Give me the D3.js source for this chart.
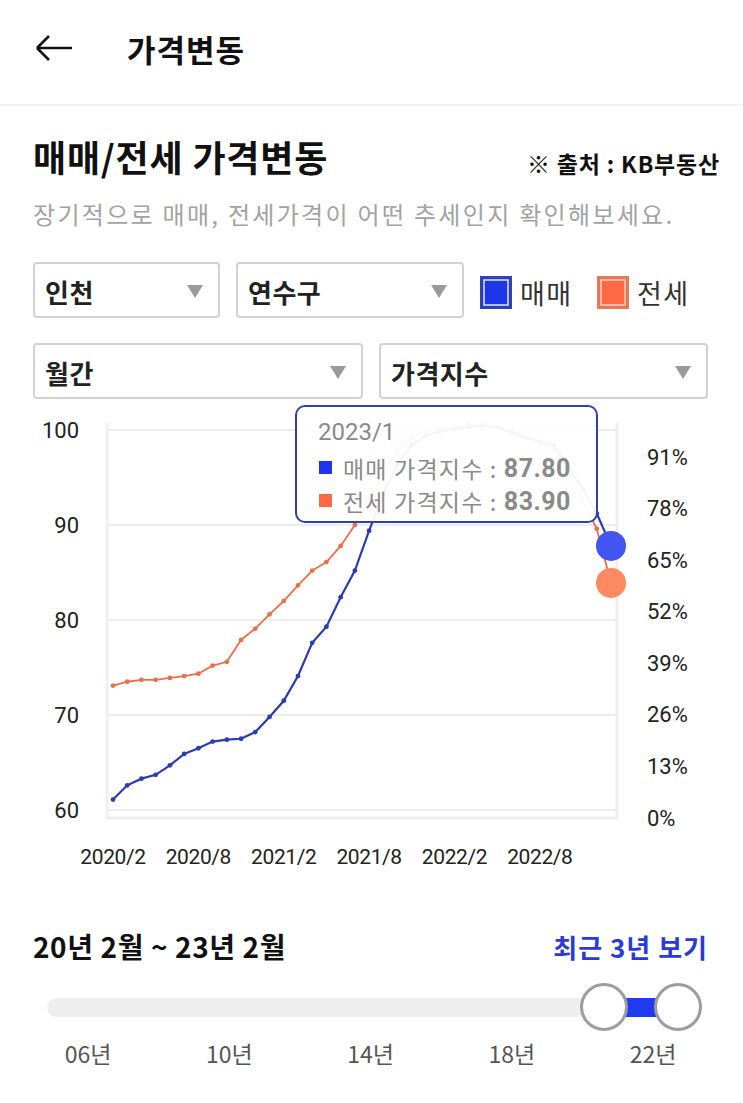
<!DOCTYPE html>
<html>
<head>
<meta charset="utf-8">
<script src="https://cdn.jsdelivr.net/npm/d3@7"></script>
<style>
	html, body { margin: 0; padding: 0; background: #fff; }
	svg { display: block; }
</style>
</head>
<body>
<svg id="chart" width="743" height="1103"></svg>
<script>
// ---- data ----
let months = ["2020/2","2020/3","2020/4","2020/5","2020/6","2020/7","2020/8","2020/9","2020/10","2020/11","2020/12",
	"2021/1","2021/2","2021/3","2021/4","2021/5","2021/6","2021/7","2021/8","2021/9","2021/10","2021/11","2021/12",
	"2022/1","2022/2","2022/3","2022/4","2022/5","2022/6","2022/7","2022/8","2022/9","2022/10","2022/11","2022/12",
	"2023/1"];
let maemae = [61.1, 62.6, 63.3, 63.7, 64.7, 65.9, 66.5, 67.2, 67.4, 67.5, 68.2, 69.8, 71.5, 74.1, 77.6, 79.3, 82.4, 85.2,
	89.4, 93.3, 96.4, 98.4, 99.4, 99.9, 100.1, 100.3, 100.5, 100.3, 99.8, 99.2, 98.8, 98.4, 96.2, 93.8, 91.2, 87.8];
let jeonse = [73.1, 73.5, 73.7, 73.7, 73.9, 74.1, 74.35, 75.2, 75.6, 77.9, 79.1, 80.6, 82.0, 83.65, 85.2, 86.1, 87.8, 90.0,
	92.6, 95.4, 97.8, 99.2, 99.9, 100.2, 100.4, 100.5, 100.5, 100.2, 99.7, 99.2, 98.6, 97.9, 95.6, 92.6, 89.6, 83.9];
let xTickLabels = ["2020/2","2020/8","2021/2","2021/8","2022/2","2022/8"];
let yTicks = [60, 70, 80, 90, 100];
let pctTicks = [0, 13, 26, 39, 52, 65, 78, 91];
let sliderYears = ["06년","10년","14년","18년","22년"];

let KR = "'Noto Sans CJK KR', 'Noto Sans', sans-serif";
let NUM = "Roboto, 'Noto Sans CJK KR', sans-serif";
let blue = "#2c3cb0", orange = "#e8704c";

let svg = d3.select("#chart");
svg.append("rect").attr("width", 743).attr("height", 1103).attr("fill", "#fff");

// ---- header ----
svg.append("path")
	.attr("d", "M37,48 L72,48 M37,48 L49,36 M37,48 L49,60")
	.attr("stroke", "#111").attr("stroke-width", 2.6).attr("fill", "none");
svg.append("text").attr("x", 127).attr("y", 48).attr("dominant-baseline", "central")
	.style("font-family", KR).style("font-weight", 700).style("font-size", "31px").style("letter-spacing", "1px")
	.attr("fill", "#111")
	.text("가격변동");
svg.append("line").attr("x1", 0).attr("x2", 743).attr("y1", 105).attr("y2", 105)
	.attr("stroke", "#f2f2f2").attr("stroke-width", 2);

svg.append("text").attr("x", 33).attr("y", 156).attr("dominant-baseline", "central")
	.style("font-family", KR).style("font-weight", 700).style("font-size", "36px").style("letter-spacing", "0.8px")
	.attr("fill", "#111")
	.text("매매/전세 가격변동");
svg.append("text").attr("x", 720).attr("y", 163).attr("dominant-baseline", "central").attr("text-anchor", "end")
	.style("font-family", KR).style("font-weight", 700).style("font-size", "23px").style("letter-spacing", "0.8px")
	.attr("fill", "#111")
	.text("※ 출처 : KB부동산");
svg.append("text").attr("x", 33).attr("y", 213).attr("dominant-baseline", "central")
	.style("font-family", KR).style("font-size", "24px").style("letter-spacing", "2.3px").attr("fill", "#a3a3a3")
	.text("장기적으로 매매, 전세가격이 어떤 추세인지 확인해보세요.");

// ---- dropdowns ----
let boxes = [
	{label: "인천", x: 33, y: 262, w: 187},
	{label: "연수구", x: 236, y: 262, w: 228},
	{label: "월간", x: 33, y: 343, w: 330},
	{label: "가격지수", x: 379, y: 343, w: 329}
];
let boxG = svg.selectAll("g.box").data(boxes).join("g").attr("class", "box")
	.attr("transform", d => "translate(" + d.x + "," + d.y + ")");
boxG.append("rect").attr("x", 1).attr("y", 1).attr("width", d => d.w - 2).attr("height", 54).attr("rx", 3)
	.attr("fill", "#fff").attr("stroke", "#d2d2d2").attr("stroke-width", 2);
boxG.append("text").attr("x", 12).attr("y", 29).attr("dominant-baseline", "central")
	.style("font-family", KR).style("font-weight", 700).style("font-size", "26px").style("letter-spacing", "0.5px")
	.attr("fill", "#222")
	.text(d => d.label);
boxG.append("path").attr("d", d => "M" + (d.w - 33) + ",23 L" + (d.w - 17) + ",23 L" + (d.w - 25) + ",36 Z")
	.attr("fill", "#9a9a9a");

// legend
let legend = [{label: "매매", x: 480, fill: "#1f35ea", edge: "#3443a8", inner: "#e8ecff"},
	{label: "전세", x: 597, fill: "#ff6a45", edge: "#e87a5a", inner: "#ffd9cc"}];
let legG = svg.selectAll("g.leg").data(legend).join("g").attr("class", "leg")
	.attr("transform", d => "translate(" + d.x + ",276)");
legG.append("rect").attr("x", 1).attr("y", 1).attr("width", 30).attr("height", 31)
	.attr("fill", d => d.fill).attr("stroke", d => d.edge).attr("stroke-width", 2);
legG.append("rect").attr("x", 4).attr("y", 4).attr("width", 24).attr("height", 25)
	.attr("fill", "none").attr("stroke", d => d.inner).attr("stroke-width", 1.5);
legG.append("text").attr("x", 40).attr("y", 16).attr("dominant-baseline", "central")
	.style("font-family", KR).style("font-size", "27px").style("letter-spacing", "1.5px").attr("fill", "#333")
	.text(d => d.label);

// ---- chart ----
let plot = {left: 107, right: 617, top: 423, bottom: 818};
let x = d3.scalePoint().domain(months).range([113, 611]);
let y = d3.scaleLinear().domain([60, 100]).range([810, 430]);
let yPct = d3.scaleLinear().domain([0, 91]).range([818, 457]);

svg.append("g").selectAll("line").data(yTicks).join("line")
	.attr("x1", plot.left).attr("x2", plot.right).attr("y1", d => y(d)).attr("y2", d => y(d))
	.attr("stroke", "#ededed").attr("stroke-width", 2);
svg.append("path")
	.attr("d", "M" + plot.left + "," + plot.top + " V" + plot.bottom + " H" + plot.right + " V" + plot.top)
	.attr("fill", "none").attr("stroke", "#efefef").attr("stroke-width", 3);

svg.append("g").selectAll("text").data(yTicks).join("text")
	.attr("x", 79).attr("y", d => y(d)).attr("text-anchor", "end").attr("dominant-baseline", "central")
	.style("font-family", NUM).style("font-size", "22px").attr("fill", "#222")
	.text(d => d);
svg.append("g").selectAll("text").data(pctTicks).join("text")
	.attr("x", 647).attr("y", d => yPct(d)).attr("dominant-baseline", "central")
	.style("font-family", NUM).style("font-size", "22px").attr("fill", "#222")
	.text(d => d + "%");
svg.append("g").selectAll("text").data(xTickLabels).join("text")
	.attr("x", d => x(d)).attr("y", 857).attr("text-anchor", "middle").attr("dominant-baseline", "central")
	.style("font-family", NUM).style("font-size", "21px").style("letter-spacing", "-0.4px").attr("fill", "#222")
	.text(d => d);

let series = [
	{key: "전세", values: jeonse, color: orange, width: 1.8},
	{key: "매매", values: maemae, color: blue, width: 2.2}
];
let line = d3.line().x((d, i) => x(months[i])).y(d => y(d));
series.forEach(function(s){
	svg.append("path").datum(s.values).attr("d", line)
		.attr("fill", "none").attr("stroke", s.color).attr("stroke-width", s.width);
	svg.append("g").selectAll("circle").data(s.values.slice(0, -1)).join("circle")
		.attr("cx", (d, i) => x(months[i])).attr("cy", d => y(d)).attr("r", 2.4)
		.attr("fill", s.color);
});

// ---- tooltip ----
let last = months.length - 1;
let tip = svg.append("g").attr("transform", "translate(295,405)");
tip.append("rect").attr("x", 1).attr("y", 1).attr("width", 301).attr("height", 116).attr("rx", 9)
	.attr("fill", "#fff").attr("fill-opacity", 0.95).attr("stroke", "#3040b0").attr("stroke-width", 2);
tip.append("text").attr("x", 23).attr("y", 27).attr("dominant-baseline", "central")
	.style("font-family", NUM).style("font-size", "24px").attr("fill", "#8a8a8a")
	.text(months[last]);
let tipRows = [
	{label: "매매 가격지수 : ", value: maemae[last], fill: "#1f35ea"},
	{label: "전세 가격지수 : ", value: jeonse[last], fill: "#ff6a45"}
];
let rowG = tip.selectAll("g.row").data(tipRows).join("g").attr("class", "row")
	.attr("transform", (d, i) => "translate(23," + (63 + i * 33) + ")");
rowG.append("rect").attr("x", 1).attr("y", -7).attr("width", 13).attr("height", 13).attr("fill", d => d.fill);
let rowText = rowG.append("text").attr("x", 25).attr("y", 0).attr("dominant-baseline", "central")
	.style("font-family", KR).style("font-size", "23px").style("letter-spacing", "1.2px").attr("fill", "#8a8a8a");
rowText.append("tspan").text(d => d.label);
rowText.append("tspan").style("font-family", NUM).style("font-weight", 700).style("font-size", "25px")
	.style("letter-spacing", "0.5px").text(d => d.value.toFixed(2));

// end markers
let ends = [{v: maemae[last], fill: "#4254f2"}, {v: jeonse[last], fill: "#ff8a62"}];
svg.append("g").selectAll("circle").data(ends).join("circle")
	.attr("cx", x(months[last])).attr("cy", d => y(d.v)).attr("r", 15).attr("fill", d => d.fill);

// ---- range slider ----
svg.append("text").attr("x", 33).attr("y", 946).attr("dominant-baseline", "central")
	.style("font-family", KR).style("font-weight", 700).style("font-size", "28px").style("letter-spacing", "0.6px")
	.attr("fill", "#111")
	.text("20년 2월 ~ 23년 2월");
svg.append("text").attr("x", 708).attr("y", 946).attr("text-anchor", "end").attr("dominant-baseline", "central")
	.style("font-family", KR).style("font-weight", 700).style("font-size", "26px").style("letter-spacing", "1px")
	.attr("fill", "#2a3ad8")
	.text("최근 3년 보기");

let sliderX = d3.scalePoint().domain(sliderYears).range([88, 653]);
let thumbX = d3.scaleLinear().domain([0, months.length]).range([604, 678]);
svg.append("rect").attr("x", 47).attr("y", 998).attr("width", 580).attr("height", 19).attr("rx", 9.5)
	.attr("fill", "#eeeeee");
svg.append("rect").attr("x", thumbX(0)).attr("y", 998).attr("width", thumbX(months.length) - thumbX(0)).attr("height", 19)
	.attr("fill", "#1f3cf0");
svg.append("g").selectAll("circle").data([0, months.length]).join("circle")
	.attr("cx", d => thumbX(d)).attr("cy", 1007).attr("r", 22.5)
	.attr("fill", "#fff").attr("stroke", "#9d9d9d").attr("stroke-width", 3);
svg.append("g").selectAll("text").data(sliderYears).join("text")
	.attr("x", d => sliderX(d)).attr("y", 1053).attr("text-anchor", "middle").attr("dominant-baseline", "central")
	.style("font-family", KR).style("font-size", "23px").attr("fill", "#555")
	.text(d => d);
</script>
</body>
</html>
